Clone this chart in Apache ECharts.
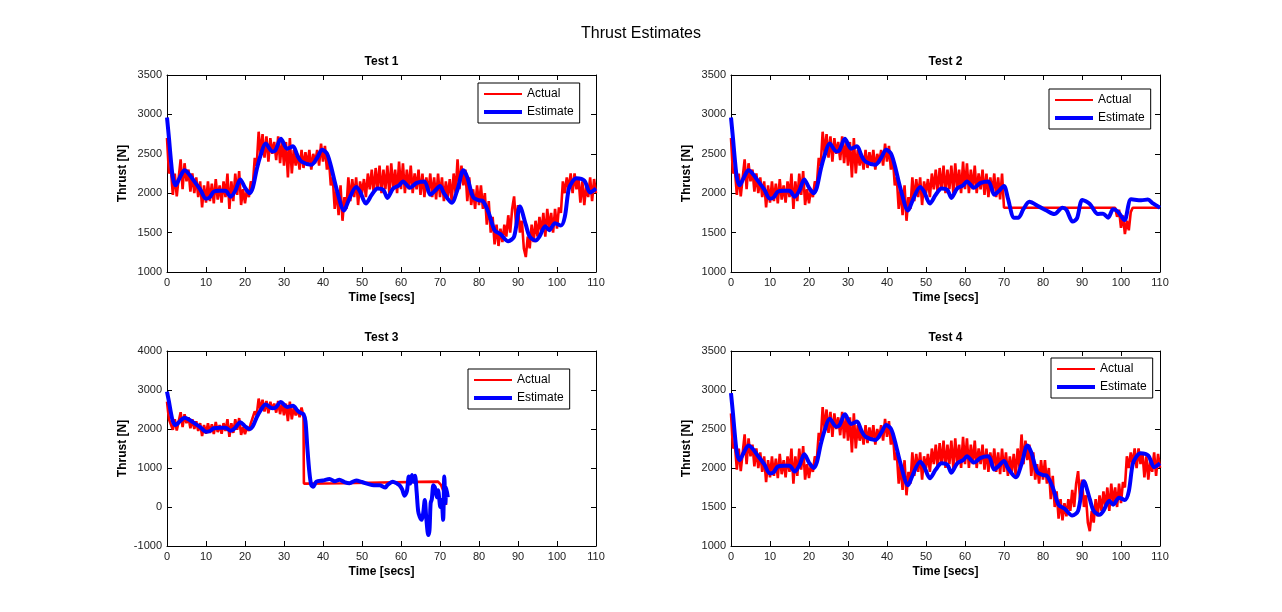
<!DOCTYPE html>
<html>
<head>
<meta charset="utf-8">
<title>Thrust Estimates</title>
<script src="https://cdn.jsdelivr.net/npm/echarts@6/dist/echarts.min.js"></script>
<style>
  html, body { margin: 0; padding: 0; background: #fff; }
  #chart { width: 1282px; height: 612px; }
</style>
</head>
<body>
<div id="chart"></div>
<script>
// subplot titles and axis ranges
const testNames = ['Test 1', 'Test 2', 'Test 3', 'Test 4'];
const yMins = [1000, 1000, -1000, 1000];
const yMaxs = [3500, 3500, 4000, 3500];
const yIntervals = [500, 500, 1000, 500];

// measured thrust, sampled every 0.5 s from 0 to 110 s (Test 1 / Test 4)
const sampleStep = 0.5;
const actualBase = [
  2700, 2250, 2300, 1980, 2250, 1960, 2200, 2430, 2050, 2380,
  2150, 2300, 2020, 2250, 2000, 2200, 1950, 2150, 1820, 2100,
  1880, 2150, 1900, 2120, 1870, 2180, 1920, 2100, 1880, 2150,
  1950, 2250, 1800, 2150, 1900, 2250, 1980, 2280, 1850, 2050,
  1870, 2050, 1950, 2150, 2100, 2450, 2350, 2780, 2500, 2750,
  2450, 2720, 2400, 2700, 2500, 2650, 2420, 2720, 2380, 2680,
  2350, 2650, 2200, 2700, 2250, 2550, 2350, 2500, 2300, 2550,
  2320, 2520, 2350, 2550, 2300, 2500, 2380, 2550, 2350, 2630,
  2400, 2600, 2300, 2450, 2100, 2200, 1800, 2050, 1720, 2100,
  1650, 1950, 1800, 2200, 1900, 2180, 1950, 2200, 1850, 2150,
  2000, 2180, 1950, 2250, 2050, 2300, 2000, 2320, 2050, 2350,
  2000, 2300, 2050, 2350, 2000, 2380, 2050, 2300, 2000, 2400,
  2050, 2380, 2000, 2300, 2050, 2350, 2000, 2250, 2050, 2300,
  1980, 2250, 1950, 2200, 2000, 2250, 1950, 2200, 1920, 2250,
  1950, 2200, 1900, 2150, 1950, 2180, 1900, 2250, 2000, 2430,
  2050, 2350, 2100, 2300, 1900, 2200, 1850, 2050, 1800, 2100,
  1850, 2100, 1800, 2000, 1600, 1900, 1500, 1700, 1350, 1600,
  1330, 1550, 1380, 1600, 1450, 1720, 1500, 1800, 1960, 1600,
  1850, 1500, 1650, 1300, 1190, 1450, 1300, 1600, 1380, 1650,
  1450, 1700, 1500, 1750, 1450, 1800, 1550, 1750, 1500, 1800,
  1550, 1820, 1750, 2150, 2000, 2200, 2050, 2250, 2000, 2250,
  2050, 2200, 1880, 2150, 1850, 2100, 1950, 2200, 1900, 2180,
  2000
];

// estimated thrust [t, N] (Test 1 / Test 4)
const estimateBase = [
  [0, 2960], [0.5, 2700], [1, 2420], [1.5, 2200], [2.2, 2100], [3.3, 2200], [4.5, 2290],
  [5.5, 2250], [7, 2150], [8.5, 2050], [10, 1930], [11, 1950], [12, 2020], [13.5, 2030],
  [15, 2030], [16.3, 1955], [17.5, 2030], [18.8, 2175], [20, 2070], [21.2, 2000], [22, 2070],
  [23, 2300], [24, 2480], [25.3, 2630], [27, 2530], [27.8, 2545], [29.2, 2690], [30.8, 2565],
  [32.3, 2595], [33.5, 2470], [34.5, 2400], [37, 2360], [38.5, 2450], [39.8, 2550], [41, 2505],
  [42, 2350], [43.5, 2050], [45.4, 1780], [46.5, 1900], [48.5, 2080], [49.5, 2020], [51, 1870],
  [52.5, 1980], [54, 2060], [55.5, 2040], [56.5, 1940], [58, 2060], [59.5, 2100], [60.5, 2150],
  [62.3, 2070], [64, 2130], [66, 2150], [67.5, 1980], [68.5, 2020], [70, 2090], [71, 2000],
  [73, 1880], [74.5, 2050], [76, 2290], [77, 2200], [78.5, 1950], [80, 1910], [81, 1900],
  [82.5, 1750], [84, 1530], [85.5, 1480], [87.5, 1390], [89, 1450], [90.5, 1830], [92, 1600],
  [93, 1450], [94.5, 1400], [95.5, 1450], [97, 1580], [98, 1530], [99.5, 1620], [101, 1590],
  [102, 1700], [103, 2050], [104, 2150], [105, 2190], [107, 2160], [108.5, 2010], [110, 2060]
];

// Test 2 after 70 s
const actualTail2 = [
  [70, 1815], [98.5, 1815], [99, 1700], [99.5, 1790], [100, 1560], [100.5, 1720],
  [101, 1480], [101.5, 1650], [102, 1530], [102.5, 1760], [103, 1815], [110, 1815]
];
const estimateTail2 = [
  [71, 1935], [72.6, 1690], [73.7, 1690], [75, 1800], [76.5, 1890], [79, 1830], [80.9, 1780],
  [82.9, 1735], [85, 1815], [86, 1790], [87.6, 1640], [88.7, 1680], [90.1, 1914], [92, 1863],
  [94.1, 1736], [95.4, 1740], [96.7, 1690], [98, 1795], [99.2, 1766], [100.9, 1660],
  [102.6, 1922], [105.2, 1910], [106.9, 1920], [108.2, 1870], [110, 1815]
];

// Test 3 after 35 s
const actualTail3 = [
  [35, 2320], [35.1, 600], [45, 610], [55, 630], [65, 645], [69.5, 650],
  [70.3, 560], [71, 380], [71.6, 50]
];
const estimateTail3 = [
  [35, 2380], [35.5, 2200], [36, 1500], [36.5, 900], [37, 560], [37.5, 520], [38.3, 650],
  [40, 680], [41.7, 720], [43, 660], [44.2, 700], [45.5, 640], [46.8, 610], [48.5, 680],
  [50, 640], [51.9, 580], [53, 560], [54.5, 560], [56, 500], [56.5, 560], [57.9, 650],
  [59, 600], [59.6, 560], [60.3, 450], [60.9, 290], [61.5, 400], [62, 780], [62.4, 600],
  [62.8, 820], [63.2, 650], [63.6, 800], [64, 400], [64.4, -100], [64.8, -250], [65.3, -330],
  [65.7, -150], [66.1, 180], [66.5, -300], [67, -720], [67.3, -600], [67.6, 100], [67.9, 200],
  [68.3, 560], [68.7, 500], [69.2, 250], [69.5, 430], [70.1, 0], [70.4, 180], [70.8, -330],
  [71.1, 780], [71.4, 100], [71.6, 500], [72, 250]
];

const actual1 = actualBase.map((v, k) => [k * sampleStep, v]);
const actualSets = [
  actual1,
  actual1.filter(p => p[0] < 70).concat(actualTail2),
  actual1.filter(p => p[0] < 35).concat(actualTail3),
  actual1
];
const estimateSets = [
  estimateBase,
  estimateBase.filter(p => p[0] <= 70).concat(estimateTail2),
  estimateBase.filter(p => p[0] < 35).concat(estimateTail3),
  estimateBase
];

const FONT = '"Liberation Sans", Arial, Helvetica, sans-serif';
const grids = [
  { left: 167, top: 75, width: 429, height: 197 },
  { left: 731, top: 75, width: 429, height: 197 },
  { left: 167, top: 351, width: 429, height: 195 },
  { left: 731, top: 351, width: 429, height: 195 }
];
const legendPos = [
  { left: 478, top: 83 },
  { left: 1049, top: 89 },
  { left: 468, top: 369 },
  { left: 1051, top: 358 }
];
// plain line samples for the legend (outer points keep the 38x10 box)
const thinIcon = 'path://M0,0L0,0M0,4L38,4L38,6L0,6ZM0,10L0,10';
const thickIcon = 'path://M0,0L0,0M0,3L38,3L38,7L0,7ZM0,10L0,10';

const boldName = { color: '#000', fontSize: 12, fontWeight: 'bold', fontFamily: FONT };

function axis(extra) {
  return Object.assign({
    type: 'value',
    axisLine: { show: true, onZero: false, lineStyle: { color: '#000', width: 1 } },
    axisTick: { show: true, inside: true, length: 5, lineStyle: { color: '#000', width: 1 } },
    splitLine: { show: false },
    axisLabel: {
      color: '#222', fontSize: 11, fontFamily: FONT, margin: 5,
      showMinLabel: true, showMaxLabel: true, hideOverlap: false,
      formatter: v => String(v)
    }
  }, extra);
}

const xAxes = [], yAxes = [], series = [], legends = [];
grids.forEach((g, i) => {
  xAxes.push(axis({
    gridIndex: i, position: 'bottom', min: 0, max: 110, interval: 10,
    name: 'Time [secs]', nameLocation: 'middle', nameGap: 20, nameTextStyle: boldName
  }));
  xAxes.push(axis({
    gridIndex: i, position: 'top', min: 0, max: 110, interval: 10,
    axisLabel: { show: false },
    name: testNames[i], nameLocation: 'middle', nameGap: 7, nameTextStyle: boldName
  }));
  yAxes.push(axis({
    gridIndex: i, position: 'left', min: yMins[i], max: yMaxs[i], interval: yIntervals[i],
    name: 'Thrust [N]', nameLocation: 'middle', nameGap: 38, nameRotate: 90, nameTextStyle: boldName
  }));
  yAxes.push(axis({
    gridIndex: i, position: 'right', min: yMins[i], max: yMaxs[i], interval: yIntervals[i],
    axisLabel: { show: false }
  }));

  series.push({
    type: 'line', name: 'Actual', xAxisIndex: 2 * i, yAxisIndex: 2 * i,
    data: actualSets[i], symbol: 'none', showSymbol: false,
    lineStyle: { color: '#ff0000', width: 2.6 }, itemStyle: { color: '#ff0000' }
  });
  series.push({
    type: 'line', name: 'Estimate', xAxisIndex: 2 * i, yAxisIndex: 2 * i,
    data: estimateSets[i], symbol: 'none', showSymbol: false, smooth: 0.3,
    lineStyle: { color: '#0000ff', width: 4 }, itemStyle: { color: '#0000ff' }
  });

  legends.push({
    data: [{ name: 'Actual', icon: thinIcon }, { name: 'Estimate', icon: thickIcon }],
    orient: 'vertical',
    left: legendPos[i].left, top: legendPos[i].top,
    itemWidth: 38, itemHeight: 10, itemGap: 6, padding: [5, 6, 5, 6],
    borderColor: '#000', borderWidth: 1, backgroundColor: '#fff',
    selectedMode: false,
    textStyle: { color: '#000', fontSize: 12, fontFamily: FONT }
  });
});

const chart = echarts.init(document.getElementById('chart'));
chart.setOption({
  animation: false,
  backgroundColor: '#fff',
  title: {
    text: 'Thrust Estimates', left: 'center', top: 21,
    textStyle: { color: '#000', fontSize: 16, fontWeight: 'normal', fontFamily: FONT }
  },
  grid: grids,
  xAxis: xAxes,
  yAxis: yAxes,
  legend: legends,
  series: series
});
</script>
</body>
</html>
